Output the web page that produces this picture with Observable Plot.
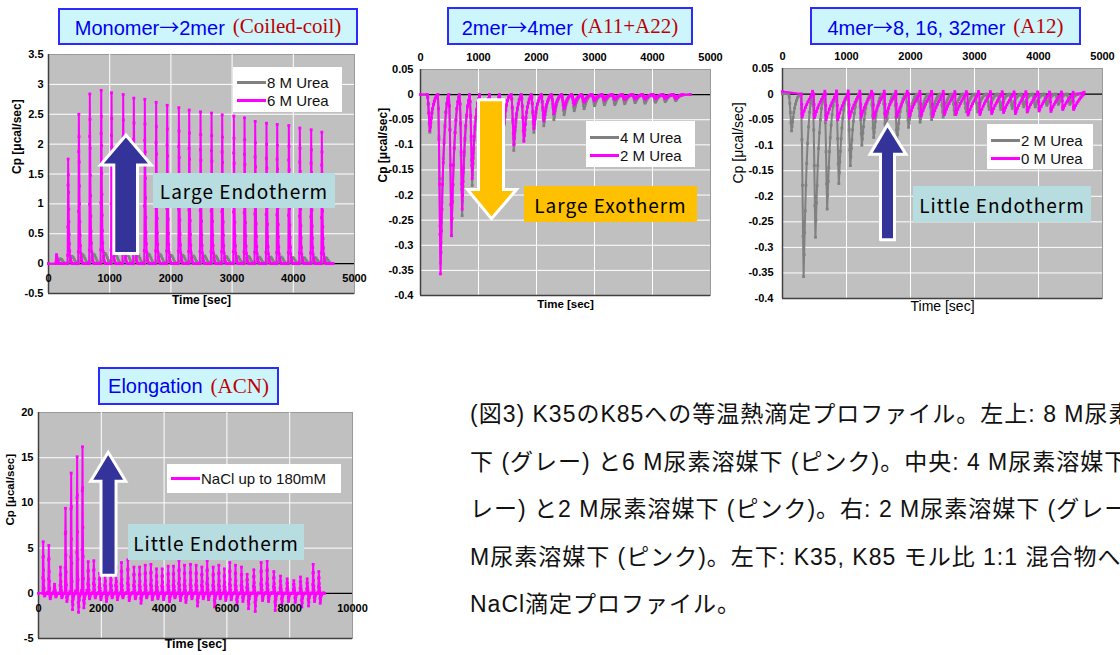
<!DOCTYPE html>
<html><head><meta charset="utf-8">
<script src="https://cdn.jsdelivr.net/npm/d3@7"></script>
<script src="https://cdn.jsdelivr.net/npm/@observablehq/plot@0.6"></script>
<style>
html,body{margin:0;padding:0;background:#fff;overflow:hidden;}
#root{position:relative;width:1120px;height:655px;overflow:hidden;font-family:"Liberation Sans",Arial,sans-serif;}
.abs{position:absolute;}
.abs svg{display:block;overflow:visible;}
.title{position:absolute;box-sizing:border-box;border:2px solid #2b2bff;background:#ccf6fc;display:flex;align-items:center;justify-content:center;white-space:nowrap;}
.title .b{color:#0000ee;font-family:"Liberation Sans",Arial,sans-serif;font-size:20px;}
.title .arr{font-family:"Noto Sans CJK JP",sans-serif;}
.title .r{color:#c00000;font-family:"Liberation Serif","DejaVu Serif",serif;font-size:21px;margin-left:8px;}
.legend{position:absolute;background:#fff;box-sizing:border-box;font-size:15px;color:#111;}
.legend .row{position:absolute;left:4px;height:18px;display:flex;align-items:center;white-space:nowrap;}
.sw{display:inline-block;width:29px;height:3px;margin-right:1px;}
.note{position:absolute;box-sizing:border-box;display:flex;align-items:center;justify-content:center;font-family:"Noto Sans CJK JP",sans-serif;font-size:19px;color:#000;letter-spacing:1px;white-space:nowrap;}
.cap{position:absolute;left:470px;top:391px;font-size:23px;line-height:47.5px;letter-spacing:1px;font-family:"Liberation Sans","Noto Sans CJK JP",sans-serif;color:#111;}
.cap div{white-space:nowrap;}
</style>
</head><body>
<div id="root">
  <div id="p1" class="abs" style="left:0px;top:46px"></div>
  <div id="p2" class="abs" style="left:370px;top:46px"></div>
  <div id="p3" class="abs" style="left:730px;top:46px"></div>
  <div id="p4" class="abs" style="left:0px;top:405px"></div>

  <div class="title" style="left:58px;top:8px;width:300px;height:37px"><span class="b">Monomer<span class="arr">→</span>2mer</span><span class="r">(Coiled-coil)</span></div>
  <div class="title" style="left:447px;top:7px;width:246px;height:38px"><span class="b">2mer<span class="arr">→</span>4mer</span><span class="r">(A11+A22)</span></div>
  <div class="title" style="left:810px;top:7px;width:271px;height:38px"><span class="b">4mer<span class="arr">→</span>8, 16, 32mer</span><span class="r">(A12)</span></div>
  <div class="title" style="left:98px;top:367px;width:181px;height:38px"><span class="b">Elongation</span><span class="r">(ACN)</span></div>

  <div class="legend" style="left:233px;top:67px;width:109px;height:45px">
    <div class="row" style="top:6px"><span class="sw" style="background:#808080"></span>8 M Urea</div>
    <div class="row" style="top:24px"><span class="sw" style="background:#ff00ff"></span>6 M Urea</div>
  </div>
  <div class="legend" style="left:586px;top:121px;width:109px;height:46px">
    <div class="row" style="top:7px"><span class="sw" style="background:#808080"></span>4 M Urea</div>
    <div class="row" style="top:25px"><span class="sw" style="background:#ff00ff"></span>2 M Urea</div>
  </div>
  <div class="legend" style="left:987px;top:124px;width:106px;height:45px">
    <div class="row" style="top:7px"><span class="sw" style="background:#808080"></span>2 M Urea</div>
    <div class="row" style="top:25px"><span class="sw" style="background:#ff00ff"></span>0 M Urea</div>
  </div>
  <div class="legend" style="left:167px;top:464px;width:174px;height:29px">
    <div class="row" style="top:5px"><span class="sw" style="background:#ff00ff"></span>NaCl up to 180mM</div>
  </div>

  <div class="note" style="left:153px;top:173px;width:182px;height:35px;background:#b7dde0">Large Endotherm</div>
  <div class="note" style="left:524px;top:186px;width:173px;height:36px;background:#ffc000">Large Exotherm</div>
  <div class="note" style="left:913px;top:186px;width:178px;height:36px;background:#b7dde0">Little Endotherm</div>
  <div class="note" style="left:128px;top:524px;width:176px;height:36px;background:#b7dde0">Little Endotherm</div>

  <div class="cap">
    <div>(図3) K35のK85への等温熱滴定プロファイル。左上: 8 M尿素溶媒</div>
    <div>下 (グレー) と6 M尿素溶媒下 (ピンク)。中央: 4 M尿素溶媒下 (グ</div>
    <div>レー) と2 M尿素溶媒下 (ピンク)。右: 2 M尿素溶媒下 (グレー) と0</div>
    <div>M尿素溶媒下 (ピンク)。左下: K35, K85 モル比 1:1 混合物への</div>
    <div>NaCl滴定プロファイル。</div>
  </div>
</div>
<script>
// ---------------- data ----------------
// Panel 1: Monomer -> 2mer (peak times [s], peak heights [ucal/sec])
const p1Times = [131,321,496,675,861,1030,1220,1394,1574,1759,1939,2130,2299,2484,2664,2838,3028,3203,3377,3562,3737,3927,4107,4292,4466];
const p1Urea6 = [0.15,1.75,2.5,2.84,2.9,2.86,2.83,2.77,2.75,2.7,2.65,2.61,2.57,2.54,2.52,2.49,2.47,2.44,2.38,2.35,2.33,2.31,2.27,2.24,2.2];
const p1Urea8 = [0.08,0.12,0.15,0.16,0.17,0.16,0.16,0.15,0.16,0.15,0.14,0.14,0.13,0.13,0.13,0.12,0.12,0.12,0.11,0.11,0.11,0.1,0.1,0.1,0.1];

// Panel 2: 2mer -> 4mer (trough times, trough depths)
const p2Times = [161,345,534,718,891,1063,1236,1408,1609,1782,1954,2126,2300,2475,2650,2820,3000,3170,3350,3520,3700,3870,4050,4220,4400];
const p2Urea2 = [-0.072,-0.357,-0.281,-0.228,-0.167,-0.15,-0.13,-0.112,-0.1,-0.093,-0.068,-0.052,-0.038,-0.028,-0.02,-0.015,-0.012,-0.011,-0.01,-0.01,-0.009,-0.009,-0.008,-0.008,-0.008];
const p2Urea4 = [-0.075,-0.335,-0.28,-0.241,-0.181,-0.155,-0.135,-0.118,-0.111,-0.09,-0.075,-0.062,-0.05,-0.04,-0.032,-0.028,-0.022,-0.02,-0.02,-0.018,-0.016,-0.017,-0.015,-0.014,-0.012];

// Panel 3: 4mer -> 8,16,32mer
const p3GrayTimes = [141,330,515,698,880,1060,1240,1425,1610,1790,1970,2150,2330,2510,2690,2870,3050,3230,3410,3590,3770,3950,4130,4310,4490];
const p3Urea2 = [-0.072,-0.357,-0.28,-0.225,-0.175,-0.14,-0.1,-0.085,-0.075,-0.09,-0.065,-0.055,-0.05,-0.045,-0.04,-0.035,-0.035,-0.03,-0.03,-0.028,-0.025,-0.025,-0.022,-0.02,-0.02];
const p3MagTimes = [297,490,672,854,1036,1219,1417,1599,1776,1974,2156,2339,2521,2700,2890,3075,3260,3445,3630,3815,4000,4185,4370,4540];
const p3Urea0 = [-0.045,-0.046,-0.05,-0.05,-0.047,-0.045,-0.047,-0.045,-0.045,-0.044,-0.043,-0.044,-0.04,-0.04,-0.041,-0.04,-0.038,-0.036,-0.038,-0.035,-0.033,-0.034,-0.03,-0.03];

// Panel 4: Elongation (NaCl titration)
const p4Times = [149,329,509,700,860,1040,1231,1401,1582,1762,1943,2120,2300,2470,2643,2845,3040,3220,3400,3580,3758,3939,4130,4300,4475,4650,4841,5021,5202,5372,5563,5743,5920,6093,6274,6465,6645,6858,7091,7282,7495,7707,7919,8131,8344,8556,8747,8928];
const p4Peak = [5.7,5.3,1.0,2.9,9.4,13.3,15.1,16.2,3.5,3.6,2.2,3.0,3.3,2.9,3.4,3.7,2.9,2.9,3.1,3.2,2.7,2.7,3.0,3.0,3.6,3.1,3.2,3.1,2.9,3.6,2.9,3.1,2.7,3.4,3.1,2.9,2.1,2.6,3.4,3.6,2.4,1.9,1.6,1.4,1.8,1.6,3.2,2.4];
const p4Dip = [0.3,0.6,0.4,0.5,0.9,1.8,2.1,1.6,0.6,0.5,0.7,0.9,0.5,0.7,0.5,0.8,0.6,1.1,0.5,0.7,0.6,0.7,0.9,0.5,0.8,1.0,0.6,1.4,0.6,0.7,1.5,0.6,0.8,0.7,1.3,0.9,1.7,2.0,0.8,0.9,1.9,1.2,0.9,1.0,1.5,1.4,0.9,1.1];

// Injection peak shapes: [offset s, relative height]
const spikeShape = [[-12,0],[-8,0.08],[-5,0.35],[-2,0.75],[0,1],[3,0.85],[6,0.68],[9,0.52],[12,0.4],[16,0.28],[20,0.19],[25,0.12],[31,0.07],[38,0.04],[46,0.02],[56,0.008],[70,0],[100,0],[130,0],[150,0]];
const humpShape = [[-5,0],[15,0.25],[35,0.65],[50,0.92],[65,1],[82,0.85],[100,0.58],[118,0.3],[135,0.12],[150,0.02]];
const troughShape = [[-45,0],[-36,0.08],[-27,0.25],[-18,0.5],[-9,0.78],[0,1],[8,0.88],[16,0.76],[25,0.64],[36,0.5],[48,0.38],[62,0.27],[77,0.18],[93,0.1],[110,0.05],[125,0.02]];
const sawShape = [[0,0],[3,0.45],[6,0.85],[9,1],[20,0.9],[40,0.74],[60,0.59],[80,0.46],[100,0.34],[120,0.23],[140,0.13],[160,0.04],[172,-0.12]];
const saltShape = [[-18,0,0],[-12,0.3,0],[-6,0.7,0],[0,1,0],[6,0.72,0],[12,0.45,0],[20,0.25,0],[28,0.1,0],[36,0,0.5],[44,0,1],[54,0,0.7],[66,0,0.35],[80,0,0.15],[100,0,0.05],[122,0,0],[140,0.02,0]];

// Annotation arrows (polygon corners in data units: time, Cp)
const arrow1 = [[1067,0.17],[1067,1.65],[850,1.65],[1266,2.15],[1680,1.65],[1454,1.65],[1454,0.17],[1067,0.17]];
const arrow2 = [[1000,-0.01],[1000,-0.189],[810,-0.189],[1224,-0.247],[1655,-0.189],[1431,-0.189],[1431,-0.01],[1000,-0.01]];
const arrow3 = [[1531,-0.285],[1531,-0.118],[1367,-0.118],[1641,-0.06],[1930,-0.118],[1750,-0.118],[1750,-0.285],[1531,-0.285]];
const arrow4 = [[1990,2.0],[1990,12.4],[1660,12.4],[2219,15.6],[2780,12.4],[2470,12.4],[2470,2.0],[1990,2.0]];

// Tick values
const xTicks5k = [0,1000,2000,3000,4000,5000];
const xTicks10k = [0,2000,4000,6000,8000,10000];
const yTicks1 = [-0.5,0,0.5,1,1.5,2,2.5,3,3.5];
const yTicks23 = [0.05,0,-0.05,-0.1,-0.15,-0.2,-0.25,-0.3,-0.35,-0.4];
const yTicks4 = [-5,0,5,10,15,20];

// ---------------- build traces ----------------
function build(times, amps, shape, start, end, startV = 0) {
  const out = [{t: start, v: startV}];
  times.forEach((t0, i) => shape.forEach(s => out.push({t: t0 + s[0], v: amps[i] * s[1]})));
  out.push({t: end, v: 0});
  return out;
}
function buildSalt(times, peaks, dips, shape, start, end) {
  const out = [{t: start, v: 0}];
  times.forEach((t0, i) => shape.forEach(s => out.push({t: t0 + s[0], v: peaks[i] * s[1] - dips[i] * s[2]})));
  out.push({t: end, v: 0});
  return out;
}
const MAG = "#ff00ff", GRAY = "#808080";

function panel(o) {
  const fmt = d => String(d);
  const marks = [
    Plot.frame({fill: "#c0c0c0", stroke: "#9a9a9a"}),
    Plot.ruleX(o.xGrid, {stroke: "#fff", strokeWidth: 1}),
    Plot.ruleY(o.yGrid, {stroke: "#fff", strokeWidth: 1}),
    Plot.ruleX([o.xDomain[0]], {stroke: "#404040", strokeWidth: 1.5}),
    Plot.ruleY([o.yDomain[0]], {stroke: "#404040", strokeWidth: 1.5}),
    Plot.ruleY([0], {stroke: "#000", strokeWidth: 1.2})
  ];
  for (const s of o.series) {
    marks.push(Plot.line(s.data, {x: "t", y: "v", stroke: s.color, strokeWidth: 2}));
    marks.push(Plot.dot(s.data, {x: "t", y: "v", fill: s.color, r: 1.6, symbol: "square"}));
  }
  marks.push(Plot.line(o.arrow, {x: d => d[0], y: d => d[1], fill: o.arrowFill, stroke: "#fff", strokeWidth: 3, strokeLinejoin: "miter", strokeMiterlimit: 4}));
  marks.push(Plot.text(o.yTicks, {y: d => d, frameAnchor: "left", dx: -o.yTickDx, textAnchor: "end", text: fmt, fontWeight: "bold", fontSize: 11}));
  if (o.xTop) {
    marks.push(Plot.text(o.xTicks, {x: d => d, frameAnchor: "top", dy: -o.xTickDy, text: fmt, fontWeight: "bold", fontSize: 11}));
  } else {
    marks.push(Plot.text(o.xTicks, {x: d => d, y: d => 0, dy: o.xTickDy, text: fmt, fontWeight: "bold", fontSize: 11}));
  }
  marks.push(Plot.text(["Time [sec]"], {frameAnchor: "bottom", dy: o.titleDy, text: d => d, fontWeight: o.titleWeight, fontSize: o.titleSize}));
  marks.push(Plot.text(["Cp [μcal/sec]"], {frameAnchor: "left", dx: -o.ytitleDx, rotate: -90, text: d => d, fontWeight: o.titleWeight, fontSize: o.ytitleSize}));
  const svg = Plot.plot({
    width: o.width, height: o.height,
    marginLeft: o.ml, marginRight: o.mr, marginTop: o.mt, marginBottom: o.mb,
    x: {domain: o.xDomain, axis: null},
    y: {domain: o.yDomain, axis: null},
    style: {fontFamily: "'Liberation Sans', Arial, sans-serif", background: "transparent", color: "#000"},
    marks
  });
  document.getElementById(o.id).appendChild(svg);
}

panel({
  id: "p1", width: 370, height: 274, ml: 48, mr: 16, mt: 8, mb: 27,
  xDomain: [0, 5000], yDomain: [-0.5, 3.5],
  xGrid: [1000, 2000, 3000, 4000], yGrid: [0.5, 1, 1.5, 2, 2.5, 3],
  xTicks: xTicks5k, yTicks: yTicks1, yTickDx: 5, xTop: false, xTickDy: 15,
  series: [
    {data: build(p1Times, p1Urea8, humpShape, 0, 4650), color: GRAY},
    {data: build(p1Times, p1Urea6, spikeShape, 0, 4650), color: MAG}
  ],
  arrow: arrow1, arrowFill: "#333399",
  titleDy: 10, titleWeight: "bold", titleSize: 12, ytitleDx: 31, ytitleSize: 12
});

panel({
  id: "p2", width: 360, height: 274, ml: 50, mr: 20, mt: 23, mb: 25,
  xDomain: [0, 5000], yDomain: [-0.4, 0.05],
  xGrid: [1000, 2000, 3000, 4000], yGrid: [-0.05, -0.1, -0.15, -0.2, -0.25, -0.3, -0.35],
  xTicks: xTicks5k, yTicks: yTicks23, yTickDx: 7, xTop: true, xTickDy: 16,
  series: [
    {data: build(p2Times, p2Urea4, troughShape, 0, 4650), color: GRAY},
    {data: build(p2Times, p2Urea2, troughShape, 0, 4650), color: MAG}
  ],
  arrow: arrow2, arrowFill: "#ffc000",
  titleDy: 12, titleWeight: "bold", titleSize: 11.5, ytitleDx: 37, ytitleSize: 12
});

panel({
  id: "p3", width: 390, height: 278, ml: 52, mr: 18, mt: 22, mb: 26,
  xDomain: [0, 5000], yDomain: [-0.4, 0.05],
  xGrid: [1000, 2000, 3000, 4000], yGrid: [-0.05, -0.1, -0.15, -0.2, -0.25, -0.3, -0.35],
  xTicks: xTicks5k, yTicks: yTicks23, yTickDx: 9, xTop: true, xTickDy: 16,
  series: [
    {data: build(p3GrayTimes, p3Urea2, troughShape, 0, 4650), color: GRAY},
    {data: build(p3MagTimes, p3Urea0, sawShape, 0, 4600, 0.005), color: MAG}
  ],
  arrow: arrow3, arrowFill: "#333399",
  titleDy: 12, titleWeight: "normal", titleSize: 14, ytitleDx: 44, ytitleSize: 14
});

panel({
  id: "p4", width: 380, height: 250, ml: 38, mr: 28, mt: 7, mb: 17,
  xDomain: [0, 10000], yDomain: [-5, 20],
  xGrid: [2000, 4000, 6000, 8000], yGrid: [5, 10, 15],
  xTicks: xTicks10k, yTicks: yTicks4, yTickDx: 5, xTop: false, xTickDy: 15,
  series: [
    {data: buildSalt(p4Times, p4Peak, p4Dip, saltShape, 0, 9110), color: MAG}
  ],
  arrow: arrow4, arrowFill: "#333399",
  titleDy: 9, titleWeight: "bold", titleSize: 12.5, ytitleDx: 28, ytitleSize: 11.5
});
</script>
</body></html>
